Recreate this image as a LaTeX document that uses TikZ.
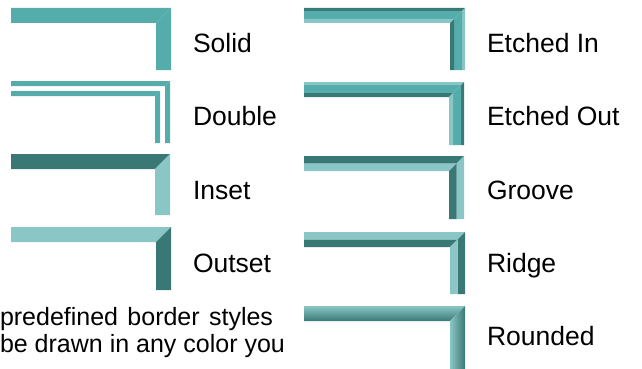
\documentclass[tikz,border=0pt]{standalone}
\usepackage{fontspec}
\setmainfont{Liberation Sans}
\usepackage{tikz}
\usetikzlibrary{positioning}
\definecolor{tealmid}{RGB}{84,173,170}
\definecolor{tealdark}{RGB}{58,120,117}
\definecolor{teallight}{RGB}{138,198,197}
\tikzset{
	defaultstyle/.style={
		x=1pt,
		y=-1pt,
		every node/.style={inner sep=0pt, outer sep=0pt}}}
% one band of a border corner: left, top, right, bottom, from, to, top colour, right colour
\newcommand{\frameband}[8]{%
	\fill[#7] (#1,#2+#5) -- (#3-#5,#2+#5) -- (#3-#6,#2+#6) -- (#1,#2+#6) -- cycle;
	\fill[#8] (#3-#5,#2+#5) -- (#3-#6,#2+#6) -- (#3-#6,#4) -- (#3-#5,#4) -- cycle;}

\begin{document}
\begin{tikzpicture}[defaultstyle,
	stylename/.style={anchor=base west, font=\fontsize{26.5}{30}\selectfont},
	notetext/.style={anchor=base west, font=\fontsize{25}{27}\selectfont},
	]
	\useasboundingbox (0,0) rectangle (642,369);
	\clip (0,0) rectangle (642,369);
	
	% left column
	\frameband{11}{8}{171}{70}{0}{15}{tealmid}{tealmid}
	\frameband{11}{81}{170}{143}{0}{5}{tealmid}{tealmid}
	\frameband{11}{81}{170}{143}{10}{15}{tealmid}{tealmid}
	\frameband{11}{154}{170}{215}{0}{15}{tealdark}{teallight}
	\frameband{11}{227}{171}{290}{0}{15}{teallight}{tealdark}
	
	\node[stylename] (solid) at (193,52.5) {Solid};
	\node[stylename] (double) at (193,125.5) {Double};
	\node[stylename] (inset) at (193,199) {Inset};
	\node[stylename] (outset) at (193,272.5) {Outset};
	
	% right column
	\frameband{304}{8}{465}{70}{0}{3}{tealdark}{teallight}
	\frameband{304}{8}{465}{70}{3}{11}{tealmid}{tealmid}
	\frameband{304}{8}{465}{70}{11}{15}{teallight}{tealdark}
	
	\frameband{304}{82}{464}{145}{0}{3}{teallight}{tealdark}
	\frameband{304}{82}{464}{145}{3}{11}{tealmid}{tealmid}
	\frameband{304}{82}{464}{145}{11}{15}{tealdark}{teallight}
	
	\frameband{304}{156}{464}{219}{0}{7.5}{tealdark}{teallight}
	\frameband{304}{156}{464}{219}{7.5}{15}{teallight}{tealdark}
	
	\frameband{304}{232}{465}{294}{0}{7.5}{teallight}{tealdark}
	\frameband{304}{232}{465}{294}{7.5}{15}{tealdark}{teallight}
	
	\shade[top color=teallight, middle color=tealmid, bottom color=tealdark]
		(304,306) -- (465,306) -- (450,321) -- (304,321) -- cycle;
	\shade[left color=teallight, middle color=tealmid, right color=tealdark]
		(465,306) -- (450,321) -- (450,369) -- (465,369) -- cycle;
	
	\node[stylename] (etchedin) at (487,52.5) {Etched In};
	\node[stylename] (etchedout) at (487,125) {Etched Out};
	\node[stylename] (groove) at (487,199) {Groove};
	\node[stylename] (ridge) at (487,272.5) {Ridge};
	\node[stylename] (rounded) at (487,345) {Rounded};
	
	% note under the left column
	\node[notetext] (noteone) at (0,325) {\makebox[273pt][s]{predefined border styles}};
	\node[notetext] (notetwo) at (0,352) {be drawn in any color you};
	
\end{tikzpicture}
\end{document}
